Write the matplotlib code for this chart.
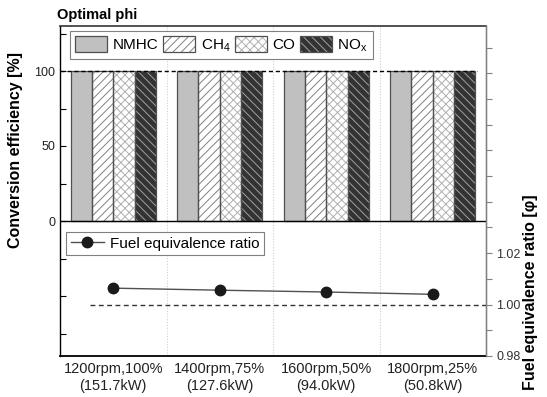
import numpy as np
import matplotlib
matplotlib.use("Agg")
import matplotlib.pyplot as plt
from matplotlib.patches import Patch
from matplotlib.lines import Line2D
from matplotlib.legend_handler import HandlerTuple

plt.rcParams['font.family'] = ['Liberation Sans', 'DejaVu Sans']
plt.rcParams['mathtext.fontset'] = 'custom'
plt.rcParams['mathtext.rm'] = 'Liberation Sans'
plt.rcParams['mathtext.it'] = 'Liberation Sans:italic'
plt.rcParams['hatch.linewidth'] = 0.7

# ---- data ----
categories = ["1200rpm,100%\n(151.7kW)", "1400rpm,75%\n(127.6kW)",
              "1600rpm,50%\n(94.0kW)", "1800rpm,25%\n(50.8kW)"]
species = ["NMHC", "CH$_4$", "CO", "NO$_\\mathrm{x}$"]
eff_nmhc = [100, 100, 100, 100]
eff_ch4 = [100, 100, 100, 100]
eff_co = [100, 100, 100, 100]
eff_nox = [100, 100, 100, 100]
phi = [1.0064, 1.0056, 1.0049, 1.0040]
phi_label = "Fuel equivalence ratio"
ref_eff = 100
ref_phi = 1.00
left_ticks = [0, 50, 100]
right_ticks = [0.98, 1.00, 1.02]

# styles
fills = ['#c0c0c0', 'white', 'white', '#333333']
hatches = [None, '////', 'xxxx', '\\\\\\\\']
hatch_cols = ['#c0c0c0', '#808080', '#b0b0b0', '#a0a0a0']
edge_col = '#505050'

fig = plt.figure(figsize=(5.47, 3.97), dpi=100)
ax = fig.add_axes([60/547, 1-356/397, 426/547, 330/397])
ax2 = ax.twinx()

x = np.arange(len(categories))
w = 0.2
series = [eff_nmhc, eff_ch4, eff_co, eff_nox]
handles = []
for i, vals in enumerate(series):
    pos = x + (i - 1.5) * w
    ax.bar(pos, vals, w, color=fills[i], hatch=hatches[i], edgecolor=hatch_cols[i],
           linewidth=0, zorder=2)
    ax.bar(pos, vals, w, fill=False, edgecolor=edge_col, linewidth=0.9, zorder=3)
    p1 = Patch(facecolor=fills[i], hatch=hatches[i], edgecolor=hatch_cols[i], linewidth=0)
    p2 = Patch(fill=False, edgecolor=edge_col, linewidth=0.9)
    handles.append((p1, p2))

ax.set_xlim(-0.5, 3.5)
ax.set_ylim(-90, 130)
ax.axhline(0, color='black', lw=1.0, zorder=4)
ax.axhline(ref_eff, xmin=0, xmax=0.98, color='black', lw=1.0, ls=(0, (3, 2)), zorder=4)
for b in [0.5, 1.5, 2.5]:
    ax.axvline(b, color='#d0d0d0', lw=0.8, ls=(0, (1, 1.5)), zorder=1)

ax.set_yticks(left_ticks)
ax.set_yticks([-75, -50, -25, 25, 75, 125], minor=True)
ax.tick_params(axis='y', which='both', direction='in', length=4, width=0.8,
               labelsize=9, colors='black', labelcolor='#222222')
ax.set_xticks(x)
ax.set_xticklabels(categories, fontsize=10.5, linespacing=1.3, color='#222222')
ax.tick_params(axis='x', length=0, pad=4)
ax.spines['left'].set_linewidth(1.0)
ax.spines['bottom'].set_linewidth(1.3)
ax.spines['top'].set_linewidth(1.2)
ax.spines['top'].set_color('#333333')

ax2.set_ylim(0.98, 1.1084)
ax2.plot(x, phi, color='#505050', lw=1.0, marker='o', ms=7.5,
         mfc='#1a1a1a', mec='#1a1a1a', zorder=5)
ax2.axhline(ref_phi, xmin=0.07, xmax=1.0, color='#333333', lw=1.0, ls=(0, (3.5, 2.5)))
ax2.set_yticks(right_ticks)
ax2.set_yticklabels([f"{t:.2f}" for t in right_ticks])
ax2.set_yticks(np.arange(0.99, 1.105, 0.01), minor=True)
ax2.tick_params(axis='y', which='both', direction='out', length=4, width=0.8,
                labelsize=9, colors='#808080', labelcolor='#333333')
ax2.spines['right'].set_color('#808080')
ax2.spines['right'].set_linewidth(1.0)
for s in ['left', 'top', 'bottom']:
    ax2.spines[s].set_visible(False)

leg1 = ax2.legend(handles, species, ncol=4, loc='upper left',
                  bbox_to_anchor=(10/426, 1-5/330), borderaxespad=0,
                  handler_map={tuple: HandlerTuple(ndivide=1, pad=0)},
                  fontsize=11, handlelength=2.1, handleheight=1.15,
                  handletextpad=0.35, columnspacing=0.3, borderpad=0.35,
                  fancybox=False, framealpha=1, edgecolor='#808080')
leg1.get_frame().set_linewidth(0.8)
ax2.add_artist(leg1)
lh = Line2D([], [], color='#505050', lw=1.0, marker='o', ms=7.5,
            mfc='#1a1a1a', mec='#1a1a1a')
leg2 = ax2.legend([lh], [phi_label], loc='upper left',
                  bbox_to_anchor=(6/426, 1-206/330), borderaxespad=0,
                  fontsize=11, handlelength=2.2, handletextpad=0.4,
                  borderpad=0.3, fancybox=False, framealpha=1, edgecolor='#808080')
leg2.get_frame().set_linewidth(0.8)

fig.text(57/547, 1-15/397, "Optimal phi", fontsize=10.5, fontweight='bold',
         ha='left', va='center')
fig.text(16/547, 1-150/397, "Conversion efficiency [%]", fontsize=11.5,
         fontweight='bold', rotation=90, ha='center', va='center')
fig.text(531/547, 1-292/397, "Fuel equivalence ratio [\u03c6]", fontsize=11.5,
         fontweight='bold', rotation=90, ha='center', va='center')

fig.savefig("out.png", dpi=100)
